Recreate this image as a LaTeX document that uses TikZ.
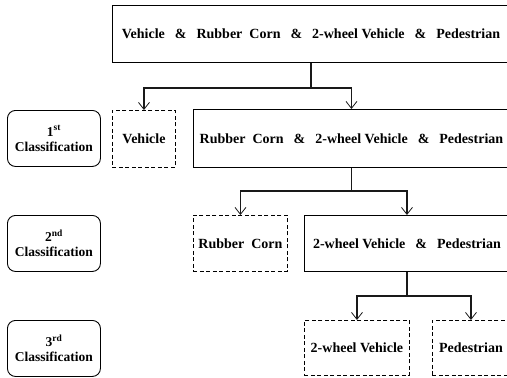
\documentclass[tikz,border=0pt]{standalone}
\usepackage{fontspec}
\setmainfont{Liberation Serif}
\usetikzlibrary{positioning,arrows.meta}
\newcommand{\andsep}{\hspace{10pt}\&\hspace{10pt}}

\begin{document}
\begin{tikzpicture}[x=1pt, y=-1pt,
  box/.style={draw, line width=0.9pt, anchor=north west, inner sep=0pt, align=center, font=\bfseries\fontsize{14}{16}\selectfont, minimum height=56pt},
  dashbox/.style={box, dash pattern=on 4pt off 2.5pt},
  lvl/.style={box, rounded corners=8pt, minimum width=93pt, font=\bfseries\fontsize{13.5}{15}\selectfont},
  line/.style={line width=1.2pt, gray!20!black},
  arr/.style={line, -{Straight Barb[length=7pt, width=11pt, line width=0.8pt]}}]
\useasboundingbox (0,0) rectangle (507,378);
\clip (0,0) rectangle (507,378);
% levels
\node[lvl] (first) at (7,110) {1\textsuperscript{st}\\Classification};
\node[lvl] (second) at (7,215) {2\textsuperscript{nd}\\Classification};
\node[lvl] (third) at (7,320) {3\textsuperscript{rd}\\Classification};
% classes
\node[box, minimum width=397pt, minimum height=57pt] (all) at (112,5) {Vehicle\andsep Rubber\ \ Corn\andsep 2-wheel Vehicle\andsep Pedestrian};
\node[dashbox, minimum width=63pt, minimum height=57pt] (veh) at (112,110) {Vehicle};
\node[box, minimum width=316pt, minimum height=58pt] (rest1) at (193,109) {Rubber\ \ Corn\andsep 2-wheel Vehicle\andsep Pedestrian};
\node[dashbox, minimum width=94pt] (corn) at (193,215) {Rubber\ \ Corn};
\node[box, minimum width=205pt] (rest2) at (304,215) {2-wheel Vehicle\andsep Pedestrian};
\node[dashbox, minimum width=105pt, minimum height=55pt] (wheel) at (304,320) {2-wheel Vehicle};
\node[dashbox, minimum width=77pt, minimum height=55pt] (ped) at (432,320) {Pedestrian};
% splits
\foreach \s/\a/\b/\d in {all/veh/rest1/25, rest1/corn/rest2/23, rest2/wheel/ped/24} {
  \coordinate[below=\d pt of \s.south] (\s-split);
  \draw[line] (\s.south) -- (\s-split);
  \draw[arr] (\s-split) -| (\a.north);
  \draw[arr] (\s-split) -| (\b.north);
}
\end{tikzpicture}
\end{document}
